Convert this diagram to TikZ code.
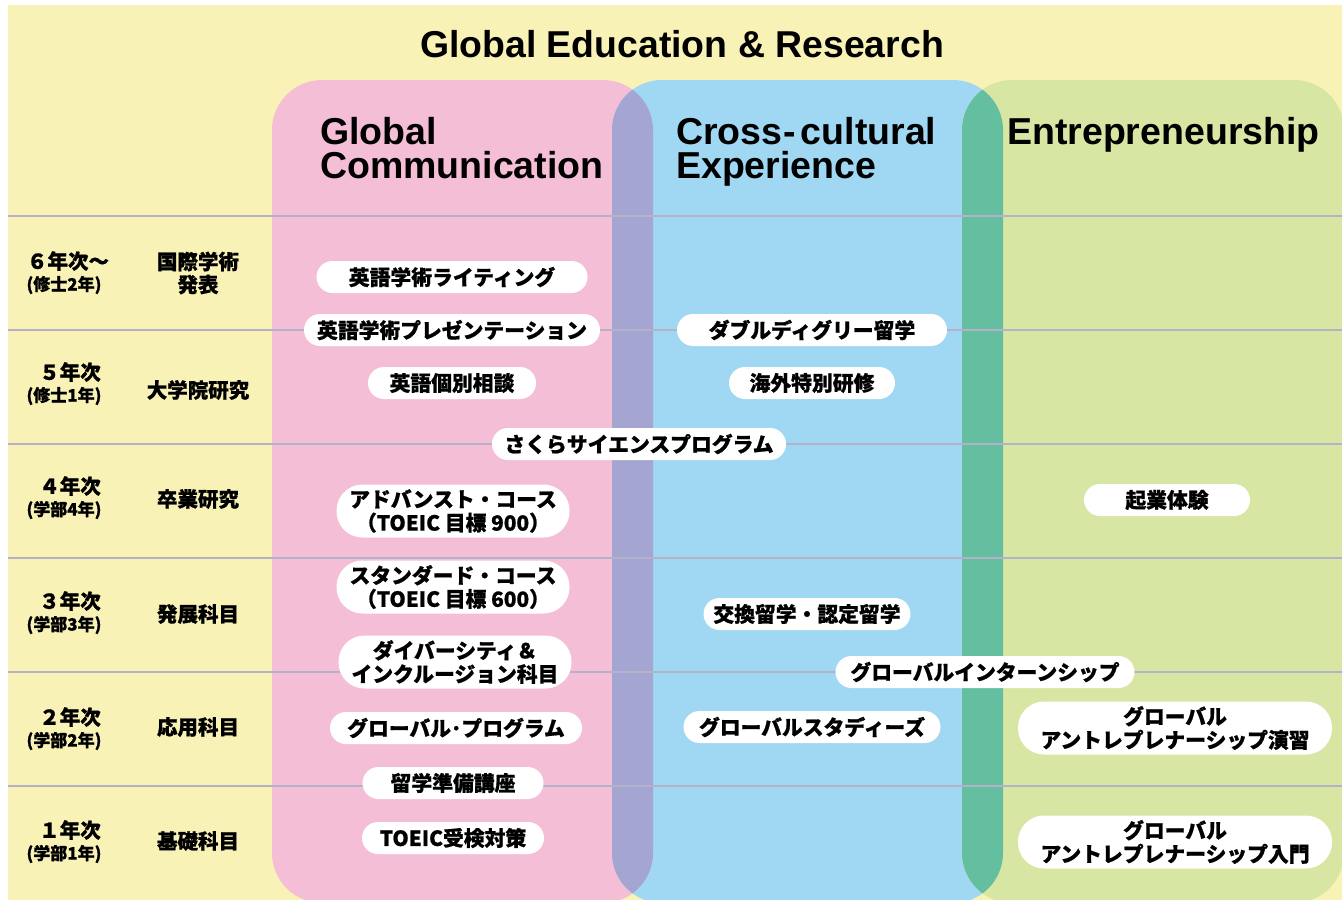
\documentclass[tikz,border=0pt]{standalone}
\usepackage{fontspec}
\setmainfont{Liberation Sans}
\newfontfamily\jp{Noto Sans CJK JP}[BoldFeatures={FakeBold=0.8}]
\definecolor{bgyellow}{HTML}{F8F2B6}
\definecolor{colpink}{HTML}{F5BED7}
\definecolor{colblue}{HTML}{A0D8F3}
\definecolor{colgreen}{HTML}{D8E6A3}
\definecolor{ovpurple}{HTML}{A5A5D2}
\definecolor{ovteal}{HTML}{64BEA0}
\definecolor{rulegray}{HTML}{B4B2C8}
\begin{document}
\begin{tikzpicture}[x=1pt,y=-1pt,
  column/.style={rounded corners=50pt},
  rowrule/.style={draw=rulegray, line width=1.2pt},
  pill/.style={fill=white, rounded corners=16pt, minimum height=32pt, inner sep=0pt,
    font=\jp\bfseries\fontsize{20.8}{23.5}\selectfont, align=center},
  pilltwo/.style={pill, rounded corners=26pt, minimum height=53pt},
  heading/.style={anchor=base west, inner sep=0pt, font=\bfseries\fontsize{37.5}{34}\selectfont},
  yearlab/.style={inner sep=0pt, font=\jp\bfseries\fontsize{20.5}{22}\selectfont},
  yearsub/.style={inner sep=0pt, font=\jp\bfseries\fontsize{17}{19}\selectfont},
  stagelab/.style={inner sep=0pt, align=center, font=\jp\bfseries\fontsize{20.5}{23}\selectfont}
]
\useasboundingbox (0,0) rectangle (1342,900);
\clip (0,0) rectangle (1342,900);

% background panel
\fill[bgyellow] (8,5) rectangle (1342,900);

% the three programme columns
\fill[colpink, column] (272,80) rectangle (653,903);
\fill[colblue, column] (612,80) rectangle (1003,903);
\fill[colgreen, column] (962,80) rectangle (1344,903);

% overlaps between neighbouring columns
\begin{scope}
  \clip[column] (272,80) rectangle (653,903);
  \fill[ovpurple, column] (612,80) rectangle (1003,903);
\end{scope}
\begin{scope}
  \clip[column] (612,80) rectangle (1003,903);
  \fill[ovteal, column] (962,80) rectangle (1344,903);
\end{scope}

% year rules
\foreach \yy in {216,330,444,558,672,786}
  \draw[rowrule] (8,\yy) -- (1342,\yy);

% title and column headings
\node[anchor=base, inner sep=0pt, font=\bfseries\fontsize{37.4}{40}\selectfont] (title) at (682,57) {Global Education \& Research};
\node[heading] (gc1) at (320,144) {Global};
\node[heading] (gc2) at (320,178) {Communication};
\node[heading] (cc1) at (676,144) {Cross\kern1pt-\kern5pt cultural};
\node[heading] (cc2) at (676,178) {Experience};
\node[heading] (en1) at (1007,144) {Entrepreneurship};

% year labels
\node[yearlab] (y6) at (68,261) {６年次～};
\node[yearsub] (y6s) at (64,285) {(修士2年)};
\node[yearlab] (y5) at (70,372) {５年次};
\node[yearsub] (y5s) at (64,396) {(修士1年)};
\node[yearlab] (y4) at (70,486) {４年次};
\node[yearsub] (y4s) at (64,510) {(学部4年)};
\node[yearlab] (y3) at (70,601) {３年次};
\node[yearsub] (y3s) at (64,625) {(学部3年)};
\node[yearlab] (y2) at (70,717) {２年次};
\node[yearsub] (y2s) at (64,741) {(学部2年)};
\node[yearlab] (y1) at (70,830) {１年次};
\node[yearsub] (y1s) at (64,854) {(学部1年)};

% stage labels
\node[stagelab] (s6) at (198,273) {国際学術\\発表};
\node[stagelab] (s5) at (198,390) {大学院研究};
\node[stagelab] (s4) at (198,499) {卒業研究};
\node[stagelab] (s3) at (198,614) {発展科目};
\node[stagelab] (s2) at (198,727) {応用科目};
\node[stagelab] (s1) at (198,841) {基礎科目};

% Global Communication courses
\node[pill, minimum width=271pt] (gcA) at (452,277) {英語学術ライティング};
\node[pill, minimum width=296pt] (gcB) at (452,330) {英語学術プレゼンテーション};
\node[pill, minimum width=168pt] (gcC) at (452,383) {英語個別相談};
\node[pill, minimum width=294pt] (sakura) at (639,444) {さくらサイエンスプログラム};
\node[pilltwo, minimum width=233pt] (gcD) at (453,511) {アドバンスト・コース\\（TOEIC 目標 900）};
\node[pilltwo, minimum width=233pt] (gcE) at (453,587) {スタンダード・コース\\（TOEIC 目標 600）};
\node[pilltwo, minimum width=233pt] (gcF) at (455,662) {ダイバーシティ＆\\インクルージョン科目};
\node[pill, minimum width=252pt] (gcG) at (456,728) {グローバル･プログラム};
\node[pill, minimum width=181pt] (gcH) at (453,783) {留学準備講座};
\node[pill, minimum width=182pt] (gcI) at (453,838) {TOEIC受検対策};

% Cross-cultural Experience courses
\node[pill, minimum width=270pt] (ccA) at (812,330) {ダブルディグリー留学};
\node[pill, minimum width=166pt] (ccB) at (812,383) {海外特別研修};
\node[pill, minimum width=207pt] (ccC) at (807,614) {交換留学・認定留学};
\node[pill, minimum width=299pt] (intern) at (985,672) {グローバルインターンシップ};
\node[pill, minimum width=257pt] (ccD) at (812,727) {グローバルスタディーズ};

% Entrepreneurship courses
\node[pill, minimum width=166pt] (enA) at (1167,500) {起業体験};
\node[pilltwo, minimum width=314pt] (enB) at (1175,728) {グローバル\\アントレプレナーシップ演習};
\node[pilltwo, minimum width=314pt] (enC) at (1175,842) {グローバル\\アントレプレナーシップ入門};
\end{tikzpicture}
\end{document}
